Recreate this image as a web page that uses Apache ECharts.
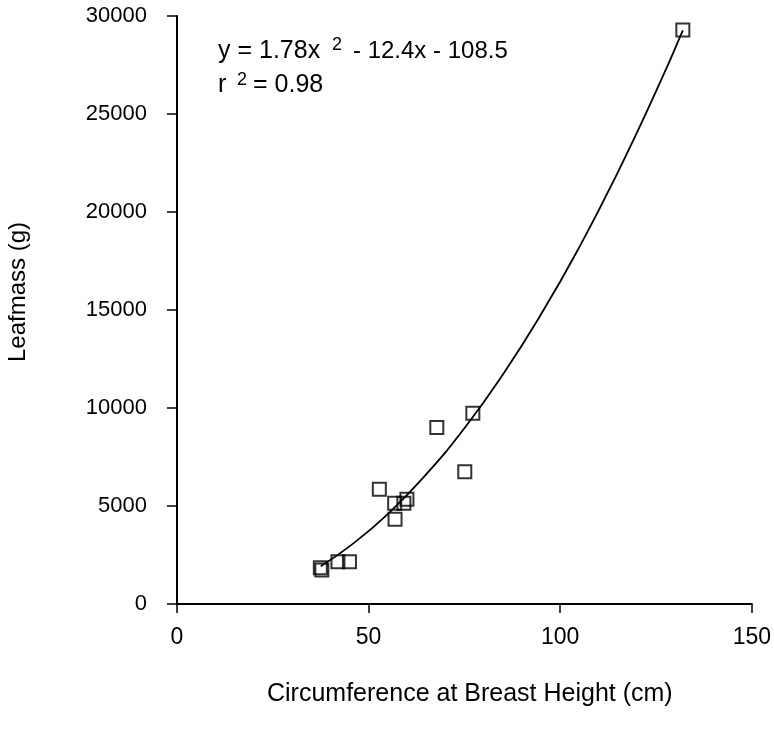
<!DOCTYPE html>
<html>
<head>
<meta charset="utf-8">
<script src="https://cdn.jsdelivr.net/npm/echarts@6/dist/echarts.min.js"></script>
<style>html,body{margin:0;padding:0;background:#fff}#c{width:774px;height:731px}</style>
</head>
<body>
<div id="c"></div>
<script>
// Observed trees: circumference (cm) and leaf mass (g)
var circumference = [37.4, 37.8, 42.0, 45.0, 52.8, 56.8, 56.9, 59.2, 60.0, 67.8, 75.1, 77.2, 132.0];
var leafmass      = [1850, 1740, 2160, 2160, 5850, 5140, 4320, 5140, 5340, 9000, 6750, 9730, 29280];
// Fitted curve
var curveX = [37.5, 45, 55, 65, 75, 85, 95, 105, 115, 125, 132];
var curveY = [1930, 2940, 4590, 6610, 8970, 11700, 14780, 18210, 22010, 26150, 29270];
var xTicks = [0, 50, 100, 150];
var yTicks = [0, 5000, 10000, 15000, 20000, 25000, 30000];

var FONT = '"Liberation Sans", Arial, sans-serif';
var chart = echarts.init(document.getElementById('c'), null, {renderer: 'canvas'});

var pts = circumference.map(function (x, i) { return [x, leafmass[i]]; });
var line = curveX.map(function (x, i) { return [x, curveY[i]]; });

function t(x, y, s, size) {
  return {type: 'text', x: x, y: y, style: {text: s, font: size + 'px ' + FONT, fill: '#000', verticalAlign: 'middle'}};
}

chart.setOption({
  animation: false,
  backgroundColor: '#fff',
  grid: {left: 177, right: 17, top: 16, bottom: 127},
  xAxis: {
    type: 'value', min: xTicks[0], max: xTicks[xTicks.length - 1], interval: 50,
    splitLine: {show: false},
    axisLine: {show: true, onZero: false, lineStyle: {color: '#000', width: 2}},
    axisTick: {show: true, length: 9, lineStyle: {color: '#000', width: 1.5}},
    axisLabel: {color: '#000', fontSize: 23, fontFamily: FONT, margin: 22, formatter: function (v) { return String(v); }}
  },
  yAxis: {
    type: 'value', min: yTicks[0], max: yTicks[yTicks.length - 1], interval: 5000,
    splitLine: {show: false},
    axisLine: {show: true, onZero: false, lineStyle: {color: '#000', width: 2}},
    axisTick: {show: true, length: 10, lineStyle: {color: '#000', width: 1.5}},
    axisLabel: {color: '#000', fontSize: 22, fontFamily: FONT, margin: 30, formatter: function (v) { return String(v); }}
  },
  graphic: [
    {type: 'text', left: 267, top: 682, style: {text: 'Circumference at Breast Height (cm)', font: '25px ' + FONT, fill: '#000'}},
    {type: 'text', left: 6, top: 222, rotation: Math.PI / 2, style: {text: 'Leafmass (g)', font: '24px ' + FONT, fill: '#000'}},
    t(218, 51, 'y = 1.78x', 25),
    t(332, 45, '2', 18),
    t(353, 51, '- 12.4x - 108.5', 24),
    t(218, 85, 'r', 25),
    t(237, 80, '2', 18),
    t(253, 85, '= 0.98', 25)
  ],
  series: [
    {
      type: 'line', data: line, smooth: true, showSymbol: false, symbol: 'none',
      lineStyle: {color: '#000', width: 1.8}, z: 2
    },
    {
      type: 'scatter', data: pts, symbol: 'rect', symbolSize: 13,
      itemStyle: {color: 'rgba(0,0,0,0)', borderColor: '#000', borderWidth: 2}, z: 3
    }
  ]
});
</script>
</body>
</html>
